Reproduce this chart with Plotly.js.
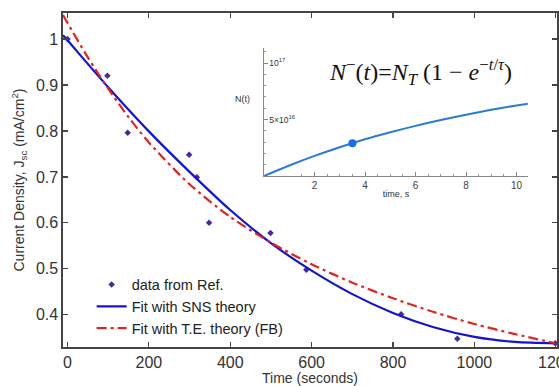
<!DOCTYPE html>
<html>
<head>
<meta charset="utf-8">
<script src="https://cdn.plot.ly/plotly-3.0.1.min.js"></script>
<style>html,body{margin:0;padding:0;background:#fff;}#chart{width:559px;height:386px;}</style>
</head>
<body>
<div id="chart"></div>
<script>
// Measured data points
const dataTime = [0, 98, 148, 299, 318, 348, 499, 587, 820, 958, 1199];
const dataJsc  = [1.0, 0.920, 0.796, 0.748, 0.699, 0.600, 0.578, 0.498, 0.401, 0.348, 0.338];

// SNS theory fit
const snsTime = [-11, 0, 100, 200, 300, 400, 500, 600, 700, 800, 900, 1000, 1100, 1200];
const snsJsc  = [1.008, 0.997, 0.895, 0.799, 0.711, 0.628, 0.556, 0.496, 0.445, 0.404, 0.373, 0.352, 0.341, 0.338];

// T.E. theory (FB) fit
const teTime = [-11, 0, 50, 100, 150, 200, 300, 400, 500, 600, 700, 800, 900, 1000, 1100, 1200];
const teJsc  = [1.052, 1.035, 0.960, 0.892, 0.830, 0.775, 0.684, 0.613, 0.557, 0.510, 0.470, 0.436, 0.406, 0.380, 0.358, 0.338];

// Inset: N(t) curve
const insetT = [0, 1, 2, 3, 4, 5, 6, 7, 8, 9, 10, 10.45];
const insetN = [0, 0.093e17, 0.178e17, 0.255e17, 0.325e17, 0.387e17, 0.444e17, 0.496e17, 0.543e17, 0.586e17, 0.625e17, 0.640e17];
const insetDotT = [3.5];
const insetDotN = [0.29e17];

// Tick labels
const mainXTicks = [0, 200, 400, 600, 800, 1000, 1200];
const mainYTicks = [0.4, 0.5, 0.6, 0.7, 0.8, 0.9, 1];
const mainYTickText = ['0.4', '0.5', '0.6', '0.7', '0.8', '0.9', '1'];
const insetXTicks = [2, 4, 6, 8, 10];
const insetYTicks = [5e16, 1e17];
const insetYTickText = ['5×10<sup>16</sup>', '10<sup>17</sup>'];

const font = 'Liberation Sans, Arial, sans-serif';

const traces = [
  {
    x: dataTime, y: dataJsc, type: 'scatter', mode: 'markers',
    name: 'data from Ref.',
    marker: {symbol: 'diamond', size: 5, color: '#4b2a96'},
    xaxis: 'x', yaxis: 'y'
  },
  {
    x: snsTime, y: snsJsc, type: 'scatter', mode: 'lines',
    name: 'Fit with SNS theory', line: {color: '#1414cc', width: 2.2, shape: 'spline', smoothing: 0.8},
    xaxis: 'x', yaxis: 'y'
  },
  {
    x: teTime, y: teJsc, type: 'scatter', mode: 'lines',
    name: 'Fit with T.E. theory (FB)', line: {color: '#e02424', width: 2.2, dash: '10px,4px,3px,4px', shape: 'spline', smoothing: 0.8},
    xaxis: 'x', yaxis: 'y'
  },
  {
    x: insetT, y: insetN, type: 'scatter', mode: 'lines', showlegend: false,
    line: {color: '#2a7ad8', width: 2, shape: 'spline'},
    xaxis: 'x2', yaxis: 'y2'
  },
  {
    x: insetDotT, y: insetDotN, type: 'scatter', mode: 'markers', showlegend: false,
    marker: {color: '#1a6fe0', size: 8},
    xaxis: 'x2', yaxis: 'y2'
  }
];

const layout = {
  width: 559, height: 386,
  margin: {l: 63, r: 2, t: 13, b: 39},
  paper_bgcolor: '#fff', plot_bgcolor: '#fff',
  font: {family: font, color: '#333', size: 15},
  showlegend: true,
  legend: {
    x: 0.058, y: 0.235, xanchor: 'left', yanchor: 'top',
    bgcolor: 'rgba(0,0,0,0)', borderwidth: 0,
    font: {family: font, size: 14.5, color: '#222'},
    tracegroupgap: 0
  },
  xaxis: {
    domain: [0, 1],
    range: [-11, 1203],
    tickvals: mainXTicks,
    ticklabeloverflow: 'allow',
    ticks: 'inside', ticklen: 5, tickcolor: '#444', tickwidth: 1.2,
    showline: true, linecolor: '#444', linewidth: 1.6, mirror: 'ticks',
    showgrid: false, zeroline: false,
    tickfont: {family: font, size: 16, color: '#333'},
    title: {text: 'Time (seconds)', font: {family: font, size: 14, color: '#333'}, standoff: 2}
  },
  yaxis: {
    domain: [0, 1],
    range: [0.330, 1.0565],
    tickvals: mainYTicks, ticktext: mainYTickText,
    ticks: 'inside', ticklen: 5, tickcolor: '#444', tickwidth: 1.2,
    showline: true, linecolor: '#444', linewidth: 1.6, mirror: 'ticks',
    showgrid: false, zeroline: false,
    tickfont: {family: font, size: 16, color: '#333'},
    title: {text: 'Current Density, J<sub>sc</sub> (mA/cm<sup>2</sup>)', font: {family: font, size: 14, color: '#333'}, standoff: 8}
  },
  xaxis2: {
    domain: [0.407, 0.941], anchor: 'y2',
    range: [0, 10.45],
    tickvals: insetXTicks,
    ticks: 'inside', ticklen: 4, tickcolor: '#888', tickwidth: 1,
    minor: {dtick: 0.5, ticks: 'inside', ticklen: 2, tickcolor: '#999'},
    showline: true, linecolor: '#888', linewidth: 1,
    showgrid: false, zeroline: false,
    tickfont: {family: font, size: 10, color: '#444'},
    title: {text: 'time, s', font: {family: font, size: 9, color: '#333'}, standoff: 0}
  },
  yaxis2: {
    domain: [0.512, 0.895], anchor: 'x2',
    range: [0, 1.133e17],
    tickvals: insetYTicks, ticktext: insetYTickText,
    ticks: 'inside', ticklen: 4, tickcolor: '#888', tickwidth: 1,
    minor: {dtick: 1e16, ticks: 'inside', ticklen: 2, tickcolor: '#999'},
    ticklabelposition: 'inside',
    showline: true, linecolor: '#888', linewidth: 1,
    showgrid: false, zeroline: false,
    tickfont: {family: font, size: 8.5, color: '#333'}
  },
  annotations: [
    {
      xref: 'paper', yref: 'paper', x: 0.364, y: 0.763, showarrow: false,
      text: 'N(t)', font: {family: font, size: 9, color: '#333'}
    },
    {
      xref: 'paper', yref: 'paper', x: 0.534, y: 0.823, xanchor: 'left', yanchor: 'middle', showarrow: false,
      text: '<i>N</i><sup>−</sup>(<i>t</i>)=<i>N</i><sub><i>T</i></sub> (1 − <i>e</i><sup>−<i>t</i>/<i>τ</i></sup>)',
      font: {family: 'Liberation Serif, Times New Roman, serif', size: 24, color: '#111'}
    }
  ]
};

Plotly.newPlot('chart', traces, layout, {staticPlot: true, displayModeBar: false});
</script>
</body>
</html>
